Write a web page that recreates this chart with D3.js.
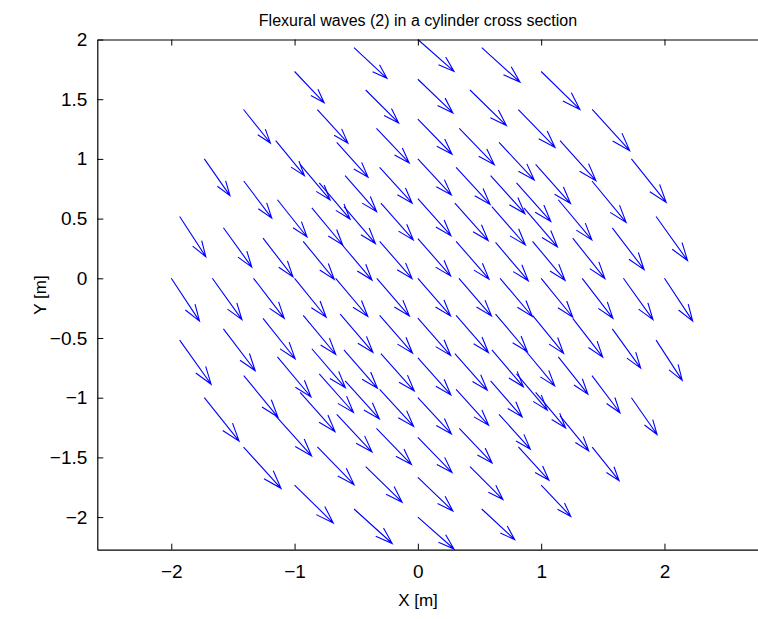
<!DOCTYPE html>
<html>
<head>
<meta charset="utf-8">
<script src="https://cdn.jsdelivr.net/npm/d3@7"></script>
<style>
  html, body { margin: 0; padding: 0; background: #fff; }
  text { font-family: "Liberation Sans", Arial, Helvetica, sans-serif; fill: #000; }
</style>
</head>
<body>
<script>
// ---------- data ----------
const titleText = "Flexural waves (2) in a cylinder cross section";
const xLabel = "X [m]";
const yLabel = "Y [m]";
const xTicks = [-2, -1, 0, 1, 2];
const yTicks = [-2, -1.5, -1, -0.5, 0, 0.5, 1, 1.5, 2];
const xDomain = [-2.6, 2.8];
const yDomain = [-2.273, 2];

// inner block of the mesh (7 x 7 nodes), tails and displacement vectors
const innerX = [-0.80,-0.59,-0.31,0,0.31,0.59,0.80,
  -0.86,-0.60,-0.30,0,0.30,0.60,0.86,
  -0.93,-0.63,-0.31,0,0.31,0.63,0.93,
  -1.0,-0.667,-0.333,0,0.333,0.667,1.0,
  -0.93,-0.63,-0.31,0,0.31,0.63,0.93,
  -0.86,-0.60,-0.30,0,0.30,0.60,0.86,
  -0.80,-0.59,-0.31,0,0.31,0.59,0.80];
const innerY = [0.80,0.86,0.93,1.0,0.93,0.86,0.80,
  0.59,0.60,0.63,0.667,0.63,0.60,0.59,
  0.31,0.30,0.31,0.333,0.31,0.30,0.31,
  0,0,0,0,0,0,0,
  -0.31,-0.30,-0.31,-0.333,-0.31,-0.30,-0.31,
  -0.59,-0.60,-0.63,-0.667,-0.63,-0.60,-0.59,
  -0.80,-0.86,-0.93,-1.0,-0.93,-0.86,-0.80];
const innerU = [0.250,0.256,0.264,0.272,0.276,0.278,0.278,
  0.250,0.256,0.263,0.268,0.271,0.272,0.272,
  0.252,0.258,0.263,0.266,0.267,0.266,0.264,
  0.256,0.261,0.264,0.265,0.264,0.261,0.256,
  0.264,0.266,0.267,0.266,0.263,0.258,0.252,
  0.272,0.272,0.271,0.268,0.263,0.256,0.250,
  0.278,0.278,0.276,0.272,0.264,0.256,0.250];
const innerV = [-0.304,-0.302,-0.301,-0.303,-0.311,-0.318,-0.324,
  -0.311,-0.309,-0.308,-0.310,-0.314,-0.321,-0.327,
  -0.319,-0.315,-0.313,-0.314,-0.317,-0.321,-0.328,
  -0.326,-0.320,-0.316,-0.315,-0.316,-0.320,-0.326,
  -0.328,-0.321,-0.317,-0.314,-0.313,-0.315,-0.319,
  -0.327,-0.321,-0.314,-0.310,-0.308,-0.309,-0.311,
  -0.324,-0.318,-0.311,-0.303,-0.301,-0.302,-0.304];

// ring 4 (24 nodes)
const ring4X = [1.333,1.256,1.139,0.955,0.658,0.336,0,-0.336,-0.658,-0.955,-1.139,-1.256,
  -1.333,-1.256,-1.139,-0.955,-0.658,-0.336,0,0.336,0.658,0.955,1.139,1.256];
const ring4Y = [0,0.336,0.658,0.955,1.139,1.256,1.333,1.256,1.139,0.955,0.658,0.336,
  0,-0.336,-0.658,-0.955,-1.139,-1.256,-1.333,-1.256,-1.139,-0.955,-0.658,-0.336];
const ring4U = [0.249,0.261,0.272,0.283,0.286,0.284,0.277,0.266,0.254,0.243,0.240,0.243,
  0.249,0.261,0.272,0.283,0.286,0.284,0.277,0.266,0.254,0.243,0.240,0.243];
const ring4V = [-0.335,-0.338,-0.336,-0.329,-0.316,-0.304,-0.294,-0.290,-0.292,-0.299,-0.312,-0.324,
  -0.335,-0.338,-0.336,-0.329,-0.316,-0.304,-0.294,-0.290,-0.292,-0.299,-0.312,-0.324];

// ring 5 (24 nodes)
const ring5X = [1.667,1.577,1.412,1.153,0.815,0.423,0,-0.423,-0.815,-1.153,-1.412,-1.577,
  -1.667,-1.577,-1.412,-1.153,-0.815,-0.423,0,0.423,0.815,1.153,1.412,1.577];
const ring5Y = [0,0.423,0.815,1.153,1.412,1.577,1.667,1.577,1.412,1.153,0.815,0.423,
  0,-0.423,-0.815,-1.153,-1.412,-1.577,-1.667,-1.577,-1.412,-1.153,-0.815,-0.423];
const ring5U = [0.240,0.258,0.277,0.291,0.298,0.295,0.284,0.267,0.248,0.233,0.227,0.230,
  0.240,0.258,0.277,0.291,0.298,0.295,0.284,0.267,0.248,0.233,0.227,0.230];
const ring5V = [-0.346,-0.351,-0.347,-0.335,-0.316,-0.298,-0.282,-0.276,-0.280,-0.293,-0.311,-0.329,
  -0.346,-0.351,-0.347,-0.335,-0.316,-0.298,-0.282,-0.276,-0.280,-0.293,-0.311,-0.329];

// ring 6 (outer surface, 24 nodes)
const ring6X = [2,1.932,1.732,1.414,1.0,0.518,0,-0.518,-1.0,-1.414,-1.732,-1.932,
  -2,-1.932,-1.732,-1.414,-1.0,-0.518,0,0.518,1.0,1.414,1.732,1.932];
const ring6Y = [0,0.518,1.0,1.414,1.732,1.932,2,1.932,1.732,1.414,1.0,0.518,
  0,-0.518,-1.0,-1.414,-1.732,-1.932,-2,-1.932,-1.732,-1.414,-1.0,-0.518];
const ring6U = [0.229,0.255,0.282,0.304,0.314,0.310,0.293,0.267,0.240,0.218,0.208,0.212,
  0.229,0.255,0.282,0.304,0.314,0.310,0.293,0.267,0.240,0.218,0.208,0.212];
const ring6V = [-0.359,-0.369,-0.364,-0.345,-0.318,-0.289,-0.267,-0.257,-0.262,-0.281,-0.308,-0.337,
  -0.359,-0.369,-0.364,-0.345,-0.318,-0.289,-0.267,-0.257,-0.262,-0.281,-0.308,-0.337];

// ---------- build ----------
const groups = [
  [innerX, innerY, innerU, innerV],
  [ring4X, ring4Y, ring4U, ring4V],
  [ring5X, ring5Y, ring5U, ring5V],
  [ring6X, ring6Y, ring6U, ring6V]
];
const arrows = [];
groups.forEach(([X, Y, U, V]) => X.forEach((x, i) => arrows.push({x, y: Y[i], u: U[i], v: V[i]})));

const W = 758, H = 619;
const plot = {left: 97.3, right: 763.1, top: 39.5, bottom: 549.7};
const tickFont = 19, labelFont = 17, titleFont = 16;

const xs = d3.scaleLinear().domain(xDomain).range([plot.left, plot.right]);
const ys = d3.scaleLinear().domain(yDomain).range([plot.bottom, plot.top]);

const svg = d3.select("body").append("svg")
  .attr("width", W).attr("height", H)
  .style("display", "block");

svg.append("rect").attr("width", W).attr("height", H).attr("fill", "#fff");

// quiver arrows (MATLAB-style heads)
const alpha = 0.33, beta = 0.33;
const pathFor = d => {
  const hx = d.x + d.u, hy = d.y + d.v;
  const b1x = hx - alpha * (d.u + beta * d.v), b1y = hy - alpha * (d.v - beta * d.u);
  const b2x = hx - alpha * (d.u - beta * d.v), b2y = hy - alpha * (d.v + beta * d.u);
  const p = d3.path();
  p.moveTo(xs(d.x), ys(d.y)); p.lineTo(xs(hx), ys(hy));
  p.moveTo(xs(b1x), ys(b1y)); p.lineTo(xs(hx), ys(hy)); p.lineTo(xs(b2x), ys(b2y));
  return p.toString();
};
svg.append("g")
  .selectAll("path").data(arrows).join("path")
  .attr("d", pathFor)
  .attr("fill", "none")
  .attr("stroke", "#0000ff")
  .attr("stroke-width", 1.1);

const fmt = d3.format("");

// axes
const gx = svg.append("g").attr("transform", `translate(0,${plot.bottom})`)
  .call(d3.axisBottom(xs).tickValues(xTicks).tickSizeInner(-6).tickSizeOuter(0).tickPadding(15).tickFormat(fmt));
const gxt = svg.append("g").attr("transform", `translate(0,${plot.top})`)
  .call(d3.axisTop(xs).tickValues(xTicks).tickSizeInner(-6).tickSizeOuter(0).tickFormat(""));
const gy = svg.append("g").attr("transform", `translate(${plot.left},0)`)
  .call(d3.axisLeft(ys).tickValues(yTicks).tickSizeInner(-6).tickSizeOuter(0).tickPadding(10).tickFormat(fmt));

[gx, gxt, gy].forEach(g => {
  g.selectAll("path.domain").attr("stroke", "#000").attr("stroke-width", 1.2);
  g.selectAll(".tick line").attr("stroke", "#000").attr("stroke-width", 1);
  g.selectAll(".tick text")
    .style("font-family", '"Liberation Sans", Arial, Helvetica, sans-serif')
    .style("font-size", tickFont + "px").attr("fill", "#000");
});

// title and labels
svg.append("text").attr("x", 418).attr("y", 26)
  .attr("text-anchor", "middle").style("font-size", titleFont + "px").text(titleText);
svg.append("text").attr("x", 418).attr("y", 606)
  .attr("text-anchor", "middle").style("font-size", labelFont + "px").text(xLabel);
svg.append("text").attr("transform", "translate(46,295) rotate(-90)")
  .attr("text-anchor", "middle").style("font-size", labelFont + "px").text(yLabel);
</script>
</body>
</html>
